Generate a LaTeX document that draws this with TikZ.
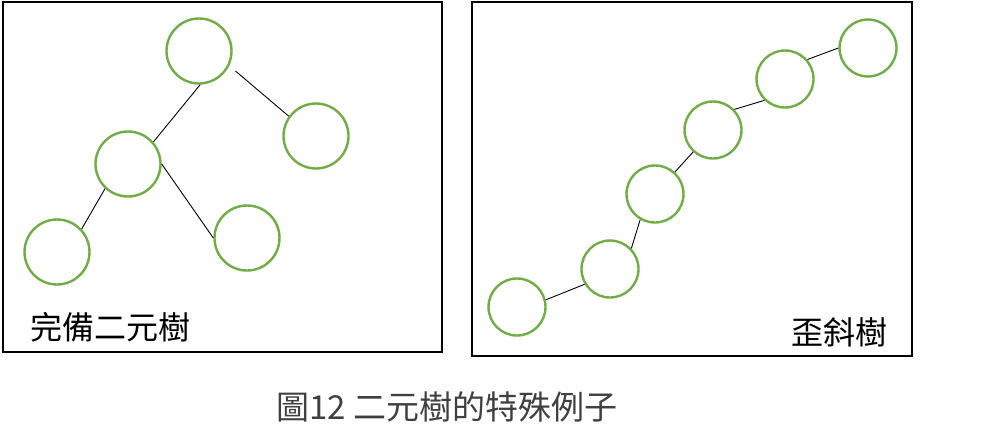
\documentclass[tikz,border=0pt]{standalone}
\usepackage{fontspec}
\usepackage{xcolor}
\usepackage{tikz}
\newfontfamily\cjk{Noto Sans CJK TC}
\definecolor{leafgreen}{RGB}{112,173,71}
\definecolor{captiongray}{RGB}{64,64,64}

\begin{document}
\begin{tikzpicture}[x=1pt,y=-1pt,line width=0.9pt,
			tree node/.style={circle,draw=leafgreen,line width=2.4pt,inner sep=0pt,minimum size=65pt},
			skew node/.style={tree node,minimum size=57pt},
			frame/.style={draw=black,line width=2pt},
			label text/.style={font=\cjk\fontsize{32}{36}\selectfont}]
			\useasboundingbox (0,0) rectangle (995,447);
			% two frames
			\draw[frame] (3,2) rectangle (442,352);
			\draw[frame] (472,2) rectangle (912,356);
			
			% complete binary tree
			\node[tree node] (1) at (199,51) {};
			\node[tree node] (2) at (128,164) {};
			\node[tree node] (3) at (316,136) {};
			\node[tree node] (4) at (57,252) {};
			\node[tree node] (5) at (247,238) {};
			\path (1.-88) edge (2.41)
			(1.-26) edge [shorten <=8pt] (3.144)
			(2.-133) edge (4.43)
			(2.east) edge (5.west);
			\node[label text] (full) at (110,327) {完備二元樹};
			
			% skewed tree
			\node[skew node] (a) at (517,307) {};
			\node[skew node] (b) at (610,269) {};
			\node[skew node] (c) at (655,194) {};
			\node[skew node] (d) at (713,130) {};
			\node[skew node] (e) at (785,79) {};
			\node[skew node] (f) at (868,48) {};
			\path (a.14) edge (b.211)
			(b.44) edge (c.240)
			(c) edge (d)
			(d.44) edge (e.226)
			(e.41) edge (f.west);
			\node[label text] (skew) at (839,332) {歪斜樹};
			
			\node[label text,font=\cjk\fontsize{33}{38}\selectfont,text=captiongray] (caption) at (447,407) {圖12 二元樹的特殊例子};
		\end{tikzpicture}
\end{document}
